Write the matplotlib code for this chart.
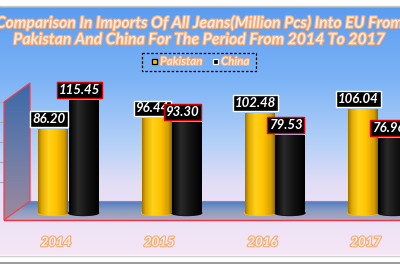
import numpy as np
import matplotlib
matplotlib.use("Agg")
import matplotlib.pyplot as plt
import matplotlib.patheffects as pe
from matplotlib.colors import LinearSegmentedColormap
from matplotlib.patches import Polygon, Rectangle, Ellipse

# data
years = ['2014', '2015', '2016', '2017']
pakistan = [86.20, 96.44, 102.48, 106.04]
china = [115.45, 93.30, 79.53, 76.96]

title = ('Comparison In Imports Of All Jeans(Million Pcs) Into EU From\n'
         'Pakistan And China For The Period From 2014 To 2017')

W, H = 400, 266
fig = plt.figure(figsize=(4, 2.66), dpi=100)

# pixel-coordinate canvas for background decoration
bg = fig.add_axes([0, 0, 1, 1])
bg.set_xlim(0, W)
bg.set_ylim(H, 0)
bg.axis('off')

bg_cmap = LinearSegmentedColormap.from_list('bg', [
    (0.0, '#5b9cf0'), (0.3, '#7db4f6'), (0.55, '#b4d0f8'),
    (0.72, '#e4def6'), (1.0, '#f6e6f5')])
grad = np.linspace(0, 1, 256).reshape(-1, 1)
bg.imshow(grad, cmap=bg_cmap, aspect='auto', extent=(0, W, 255, 6), zorder=0)

# top / bottom frame bands
bg.add_patch(Rectangle((0, 0), W, 6, color='white', zorder=1))
bg.plot([0, W], [5.5, 5.5], color='#c8c8c8', lw=1, zorder=2)
bg.add_patch(Rectangle((0, 255), W, 11, color='white', zorder=1))
bg.plot([0, W], [255.5, 255.5], color='#d0d0d0', lw=1, zorder=2)
bg.plot([0, W], [262.5, 262.5], color='#8a8a8a', lw=1.2, zorder=2)

# small grid stubs at the left
for gy in [102, 122, 142, 162, 182]:
    bg.plot([0, 4], [gy, gy], color='#a8a8b8', lw=0.8, zorder=2)

# floor
floor = Polygon([(30, 201), (W, 201), (W, 220), (4, 220)], closed=True,
                facecolor='none', edgecolor='none')
bg.add_patch(floor)
floor_cmap = LinearSegmentedColormap.from_list('fl', ['#4a7cc6', '#8a9cc0', '#b0a8c0'])
im = bg.imshow(grad, cmap=floor_cmap, aspect='auto', extent=(0, W, 220, 201), zorder=3)
im.set_clip_path(floor)
bg.plot([30, W], [201, 201], color='#f06070', lw=0.8, zorder=4)
bg.plot([4, W], [220, 220], color='#f03040', lw=1.0, zorder=4)

# left wall
wall = Polygon([(4, 102), (30, 83), (30, 201), (4, 220)], closed=True,
               facecolor='none', edgecolor='#f04050', lw=0.9, zorder=4)
bg.add_patch(wall)
wall_cmap = LinearSegmentedColormap.from_list('wl', ['#3a68a8', '#6a7ca8', '#a08a9c'])
im = bg.imshow(grad, cmap=wall_cmap, aspect='auto', extent=(4, 30, 220, 83), zorder=3)
im.set_clip_path(wall)

# data axes (transparent, full figure)
ax = fig.add_axes([0, 0, 1, 1])
ax.patch.set_alpha(0)
ax.axis('off')
xlim = ((0 - 68.5) / 103.2, (W - 68.5) / 103.2)
ylim = ((213 - H) / 0.98, 213 / 0.98)

x = np.arange(len(years))
bw = 0.29
off = 0.146

yellow_cmap = LinearSegmentedColormap.from_list('y', [
    (0.0, '#9a7200'), (0.12, '#e0a800'), (0.35, '#ffd21a'),
    (0.6, '#ffc400'), (0.88, '#d49c00'), (1.0, '#8a6600')])
black_cmap = LinearSegmentedColormap.from_list('k', [
    (0.0, '#000000'), (0.3, '#2a2a2a'), (0.6, '#141414'), (1.0, '#000000')])
hgrad = np.linspace(0, 1, 256).reshape(1, -1)

ell_h = 5 / 0.98
series = [(pakistan, -off, yellow_cmap, '#ffc000', 'white'),
          (china, off, black_cmap, '#101010', '#e00000')]
for vals, dx, cm, base, lab_edge in series:
    bars = ax.bar(x + dx, vals, width=bw, color=base, zorder=5)
    for bar, v in zip(bars, vals):
        x0 = bar.get_x()
        # bottom ellipse of the cylinder
        e = Ellipse((x0 + bw / 2, 0), bw, ell_h, color=base, zorder=5)
        ax.add_patch(e)
        img = ax.imshow(hgrad, cmap=cm, aspect='auto',
                        extent=(x0, x0 + bw, -ell_h, v), zorder=6)
        img.set_clip_path(Rectangle((x0, 0), bw, v, transform=ax.transData))
        img2 = ax.imshow(hgrad, cmap=cm, aspect='auto',
                         extent=(x0, x0 + bw, -ell_h, v), zorder=6)
        img2.set_clip_path(e)
        ax.annotate(f'{v:.2f}', xy=(x0 + bw / 2, v), xytext=(-3.2, 7.2),
                    textcoords='offset points', ha='center', va='center',
                    fontsize=9.5, fontweight='bold', style='italic',
                    family='Lato', color='white', zorder=8,
                    bbox=dict(boxstyle='square,pad=0.15', fc='black',
                              ec=lab_edge, lw=1.0))
ax.set_xlim(*xlim)
ax.set_ylim(*ylim)

glow = [pe.withStroke(linewidth=1.6, foreground='#f2aa76')]
for i, yr in enumerate(years):
    ax.annotate(yr, xy=(i, 0), xytext=(-9, -21), textcoords='offset points',
                ha='center', va='center', fontsize=9.5, fontweight='bold',
                style='italic', family='Lato', color='#fdeee4',
                path_effects=glow, zorder=8)

# title
fig.text(0.5, 1 - 31.5 / H, title, ha='center', va='center', fontsize=11.4,
         fontweight='bold', style='italic', family='Lato', color='#fde9dc',
         linespacing=1.22, path_effects=glow)

# legend
small_glow = [pe.withStroke(linewidth=1.4, foreground='#f2aa76')]
bg.add_patch(Rectangle((142, 52.5), 114, 18, fill=False, ec='black',
                       lw=0.9, ls=(0, (2, 1.5)), zorder=5))
bg.add_patch(Rectangle((151.5, 58.5), 5.5, 5.5, fc='#ffc000', ec='black', lw=0.9, zorder=5))
bg.add_patch(Rectangle((212.5, 58.5), 5.5, 5.5, fc='black', ec='white', lw=0.9, zorder=5))
bg.text(160, 61.5, 'Pakistan', ha='left', va='center', fontsize=8.3,
        fontweight='bold', style='italic', family='Lato', color='#fde9dc',
        path_effects=small_glow, zorder=6)
bg.text(221, 61.5, 'China', ha='left', va='center', fontsize=8.3,
        fontweight='bold', style='italic', family='Lato', color='#fde9dc',
        path_effects=small_glow, zorder=6)

fig.savefig('out.png', dpi=100)
